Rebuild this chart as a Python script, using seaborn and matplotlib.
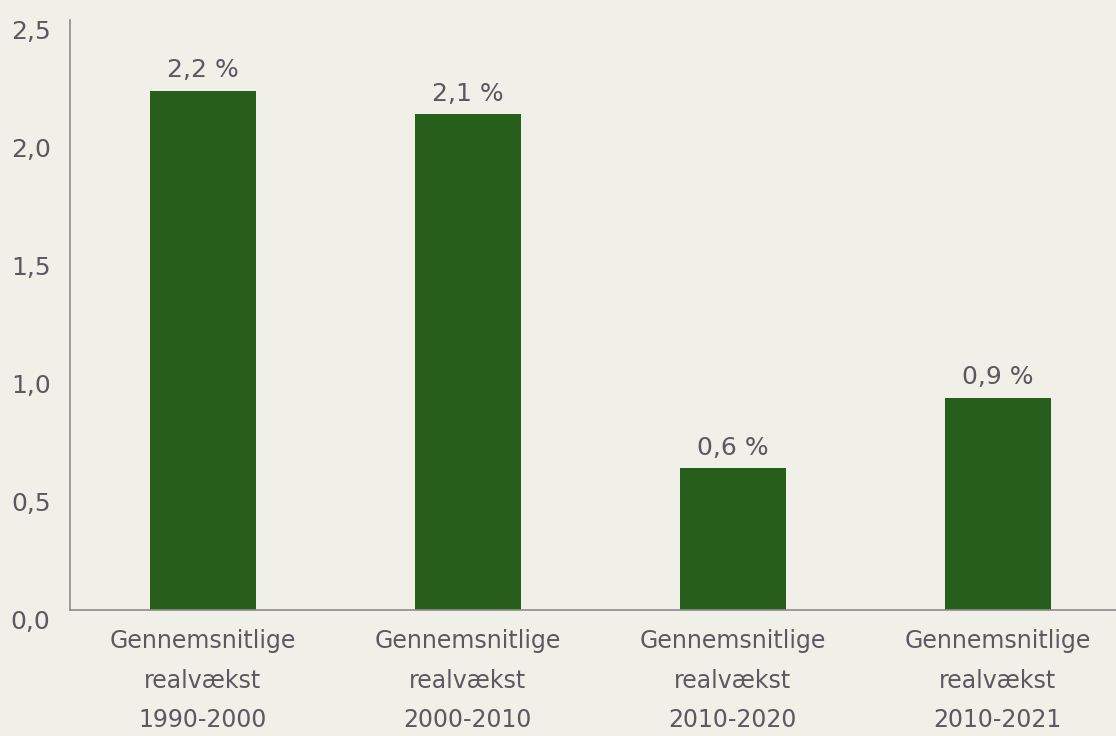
import matplotlib.pyplot as plt
import seaborn as sns
import pandas as pd

# data
periods = ["Gennemsnitlige\nrealvækst\n1990-2000", "Gennemsnitlige\nrealvækst\n2000-2010",
           "Gennemsnitlige\nrealvækst\n2010-2020", "Gennemsnitlige\nrealvækst\n2010-2021"]
growth = [2.2, 2.1, 0.6, 0.9]
bar_labels = ["2,2 %", "2,1 %", "0,6 %", "0,9 %"]
y_ticks = [0.0, 0.5, 1.0, 1.5, 2.0, 2.5]
y_tick_labels = ["0,0", "0,5", "1,0", "1,5", "2,0", "2,5"]

bg = "#F1F0E8"
bar_color = "#275E1B"
text_color = "#5E5660"

sns.set_style("white")
plt.rcParams["font.family"] = ["DejaVu Sans"]

df = pd.DataFrame({"period": periods, "growth": growth})

fig = plt.figure(figsize=(11.16, 7.36), dpi=100, facecolor=bg)
ax = fig.add_axes([70 / 1116, 1 - 610 / 736, 1 - 70 / 1116, 590 / 736])
ax.set_facecolor(bg)

sns.barplot(data=df, x="period", y="growth", color=bar_color, width=0.4,
            saturation=1, linewidth=0, ax=ax)

for i, (v, lab) in enumerate(zip(growth, bar_labels)):
    ax.annotate(lab, (i, v), xytext=(0, 6), textcoords="offset points",
                ha="center", va="bottom", fontsize=18, color=text_color)

ax.set_ylim(0, 2.5)
ax.set_xlim(-0.5, 3.447)
ax.set_yticks(y_ticks)
ax.set_yticklabels(y_tick_labels, va="top")
ax.tick_params(axis="y", length=0, pad=14, labelsize=18, labelcolor=text_color)
ax.tick_params(axis="x", length=0, pad=14, labelsize=17, labelcolor=text_color)
for lbl in ax.get_xticklabels():
    lbl.set_linespacing(1.8)
ax.set_xlabel("")
ax.set_ylabel("")

for side in ["top", "right"]:
    ax.spines[side].set_visible(False)
for side in ["left", "bottom"]:
    ax.spines[side].set_color("#8E8A8C")
    ax.spines[side].set_linewidth(1.2)

fig.savefig("out.png", dpi=100, facecolor=bg)
